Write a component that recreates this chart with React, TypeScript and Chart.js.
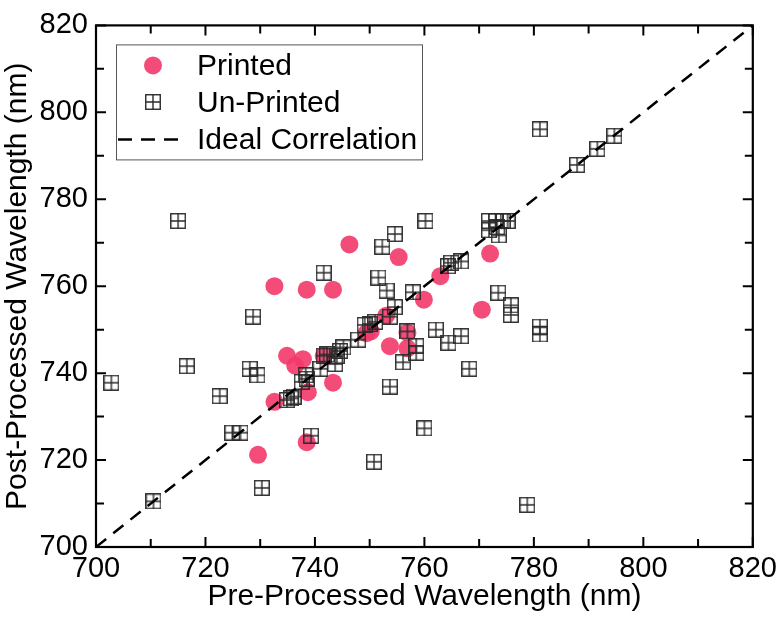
import React, { useEffect, useRef } from 'react';
import { Chart, registerables } from 'chart.js';

Chart.register(...registerables);

// ---- Data ----
const PRINTED_X = [746.3, 755.3, 732.6, 738.5, 743.3, 772.0, 762.9, 759.9, 770.5, 732.6, 734.9, 736.4, 737.8, 738.7, 738.5, 729.6, 743.3, 741.6, 749.4, 750.2, 753.0, 753.7, 756.9, 756.9];
const PRINTED_Y = [769.6, 766.7, 760.0, 759.2, 759.2, 767.5, 762.3, 756.9, 754.6, 733.4, 744.0, 741.7, 743.2, 735.6, 724.1, 721.2, 737.8, 744.0, 749.2, 749.6, 753.2, 746.2, 749.3, 745.7];

const UNPRINTED_X = [702.8, 710.5, 715.0, 716.6, 722.6, 724.9, 726.4, 728.7, 728.1, 729.5, 730.3, 734.9, 735.6, 736.1, 737.6, 738.5, 738.3, 739.3, 741.0, 741.6, 742.2, 743.7, 744.0, 744.6, 745.2, 747.9, 749.1, 750.0, 751.0, 753.1, 753.7, 754.6, 753.7, 756.1, 756.9, 758.5, 758.5, 757.9, 750.8, 760.0, 741.6, 752.3, 754.6, 751.6, 760.2, 781.1, 787.9, 791.6, 794.7, 771.8, 773.0, 774.3, 775.2, 771.8, 773.3, 773.6, 764.9, 766.7, 764.3, 773.5, 775.8, 775.8, 781.1, 781.1, 762.1, 764.4, 766.7, 768.2, 778.8];
const UNPRINTED_Y = [737.8, 710.5, 775.0, 741.6, 734.7, 726.3, 726.3, 753.0, 741.0, 739.5, 713.6, 733.8, 734.2, 734.6, 738.0, 738.7, 739.5, 725.6, 741.0, 744.0, 744.3, 742.1, 744.0, 745.1, 745.9, 747.7, 751.1, 751.3, 751.8, 759.0, 753.0, 755.2, 736.9, 742.5, 749.6, 746.2, 744.7, 758.6, 719.6, 727.3, 763.1, 769.1, 772.0, 762.0, 775.0, 796.1, 787.9, 791.6, 794.6, 775.0, 775.0, 775.0, 775.0, 772.9, 773.6, 771.7, 765.4, 765.7, 764.6, 758.5, 755.6, 753.4, 750.7, 748.9, 750.0, 747.0, 748.5, 741.0, 709.7];

const IDEAL_X = [700, 820];
const IDEAL_Y = [700, 820];

const AXIS_MIN = 700;
const AXIS_MAX = 820;
const TICK_STEP = 10;
const LABEL_STEP = 20;

const X_TITLE = 'Pre-Processed Wavelength (nm)';
const Y_TITLE = 'Post-Processed Wavelength (nm)';
const LABEL_PRINTED = 'Printed';
const LABEL_UNPRINTED = 'Un-Printed';
const LABEL_IDEAL = 'Ideal Correlation';

const FONT_FAMILY = '"Liberation Sans", Arial, Helvetica, sans-serif';
const PINK = 'rgba(243, 56, 106, 0.9)';
const SQUARE_COLOR = '#2b2b2b';

function makeBoxPlus(size: number, color: string, lw: number): HTMLCanvasElement {
  const c = document.createElement('canvas');
  c.width = size;
  c.height = size;
  const g = c.getContext('2d')!;
  g.strokeStyle = color;
  g.lineWidth = lw;
  const a = 0.75;
  const b = size - 0.75;
  const m = size / 2;
  g.strokeRect(a, a, b - a, b - a);
  g.beginPath();
  g.moveTo(m, a);
  g.lineTo(m, b);
  g.moveTo(a, m);
  g.lineTo(b, m);
  g.stroke();
  return c;
}

const framePlugin = {
  id: 'frameTicks',
  afterDatasetsDraw(chart: any) {
    const { ctx, chartArea: ca } = chart;
    const xs = chart.scales.x;
    const ys = chart.scales.y;
    ctx.save();
    ctx.strokeStyle = '#000';
    ctx.lineWidth = 2;
    ctx.beginPath();
    for (const t of xs.ticks) {
      const v = t.value;
      const px = xs.getPixelForValue(v);
      const len = Math.round(v) % LABEL_STEP === 0 ? 10 : 8;
      ctx.moveTo(px, ca.bottom);
      ctx.lineTo(px, ca.bottom - len);
      ctx.moveTo(px, ca.top);
      ctx.lineTo(px, ca.top + len);
    }
    for (const t of ys.ticks) {
      const v = t.value;
      const py = ys.getPixelForValue(v);
      const len = Math.round(v) % LABEL_STEP === 0 ? 10 : 8;
      ctx.moveTo(ca.left, py);
      ctx.lineTo(ca.left + len, py);
      ctx.moveTo(ca.right, py);
      ctx.lineTo(ca.right - len, py);
    }
    ctx.stroke();
    ctx.lineWidth = 2.2;
    ctx.strokeRect(ca.left, ca.top, ca.right - ca.left, ca.bottom - ca.top);
    ctx.restore();
  },
};

function makeLegendPlugin(box: HTMLCanvasElement) {
  return {
    id: 'boxLegend',
    afterDraw(chart: any) {
      const { ctx, chartArea: ca } = chart;
      const bx = ca.left + 20;
      const by = ca.top + 19;
      const bw = 306;
      const bh = 115;
      ctx.save();
      ctx.fillStyle = '#fff';
      ctx.fillRect(bx, by, bw, bh);
      ctx.strokeStyle = '#555';
      ctx.lineWidth = 1;
      ctx.strokeRect(bx + 0.5, by + 0.5, bw, bh);

      const symX = bx + 37;
      const textX = bx + 81;
      const rows = [by + 21, by + 58, by + 95];

      // Printed
      ctx.fillStyle = PINK;
      ctx.beginPath();
      ctx.arc(symX, rows[0], 9, 0, Math.PI * 2);
      ctx.fill();
      // Un-Printed
      ctx.drawImage(box, Math.round(symX - box.width / 2), Math.round(rows[1] - box.height / 2));
      // Ideal
      ctx.strokeStyle = '#000';
      ctx.lineWidth = 2.5;
      ctx.setLineDash([14, 9]);
      ctx.beginPath();
      ctx.moveTo(bx + 2, rows[2]);
      ctx.lineTo(bx + 66, rows[2]);
      ctx.stroke();
      ctx.setLineDash([]);

      ctx.fillStyle = '#000';
      ctx.font = `30px ${FONT_FAMILY}`;
      ctx.textBaseline = 'middle';
      ctx.textAlign = 'left';
      ctx.fillText(LABEL_PRINTED, textX, rows[0] + 1);
      ctx.fillText(LABEL_UNPRINTED, textX, rows[1] + 1);
      ctx.fillText(LABEL_IDEAL, textX, rows[2] + 1);
      ctx.restore();
    },
  };
}

export default function App() {
  const ref = useRef<HTMLCanvasElement | null>(null);

  useEffect(() => {
    if (!ref.current) return;
    const box = makeBoxPlus(16, SQUARE_COLOR, 1.4);
    const tickFont = { family: FONT_FAMILY, size: 29 };
    const titleFont = { family: FONT_FAMILY, size: 30, lineHeight: 1.2 };
    const tickCb = (v: any) => (Math.round(Number(v)) % LABEL_STEP === 0 ? String(Math.round(Number(v))) : '');

    const chart = new Chart(ref.current, {
      type: 'scatter',
      data: {
        datasets: [
          {
            type: 'line',
            label: LABEL_IDEAL,
            data: IDEAL_X.map((x, i) => ({ x, y: IDEAL_Y[i] })),
            borderColor: '#000',
            borderWidth: 2.5,
            borderDash: [13, 9],
            pointRadius: 0,
            fill: false,
            order: 0,
          } as any,
          {
            label: LABEL_UNPRINTED,
            data: UNPRINTED_X.map((x, i) => ({ x, y: UNPRINTED_Y[i] })),
            pointStyle: box as any,
            pointRadius: 8,
            pointHoverRadius: 8,
            order: 1,
          },
          {
            label: LABEL_PRINTED,
            data: PRINTED_X.map((x, i) => ({ x, y: PRINTED_Y[i] })),
            pointStyle: 'circle',
            pointRadius: 9,
            pointHoverRadius: 9,
            backgroundColor: PINK,
            borderWidth: 0,
            order: 2,
          },
        ],
      },
      options: {
        responsive: false,
        animation: false,
        devicePixelRatio: 1,
        layout: { padding: { top: 14, right: 25, left: 0, bottom: 0 } },
        plugins: { legend: { display: false }, tooltip: { enabled: false } },
        events: [],
        scales: {
          x: {
            type: 'linear',
            min: AXIS_MIN,
            max: AXIS_MAX,
            grid: { display: false, drawTicks: false },
            border: { display: false },
            ticks: { stepSize: TICK_STEP, autoSkip: false, maxRotation: 0, padding: 5, color: '#000', font: tickFont, callback: tickCb },
            title: { display: true, text: X_TITLE, color: '#000', font: titleFont, padding: { top: 0, bottom: 23 } },
            afterFit: (s: any) => { s.height = 91; },
          },
          y: {
            type: 'linear',
            min: AXIS_MIN,
            max: AXIS_MAX,
            grid: { display: false, drawTicks: false },
            border: { display: false },
            ticks: { stepSize: TICK_STEP, autoSkip: false, padding: 8, color: '#000', font: tickFont, callback: tickCb },
            title: { display: true, text: Y_TITLE, color: '#000', font: titleFont, padding: { top: 0, bottom: 0 } },
            afterFit: (s: any) => { s.width = 96; },
          },
        },
      } as any,
      plugins: [framePlugin, makeLegendPlugin(box)],
    });
    return () => chart.destroy();
  }, []);

  return (
    <div style={{ position: 'fixed', left: 0, top: 0, width: 782, height: 638, background: '#fff' }}>
      <canvas ref={ref} width={782} height={638} style={{ display: 'block', width: 782, height: 638 }} />
    </div>
  );
}
